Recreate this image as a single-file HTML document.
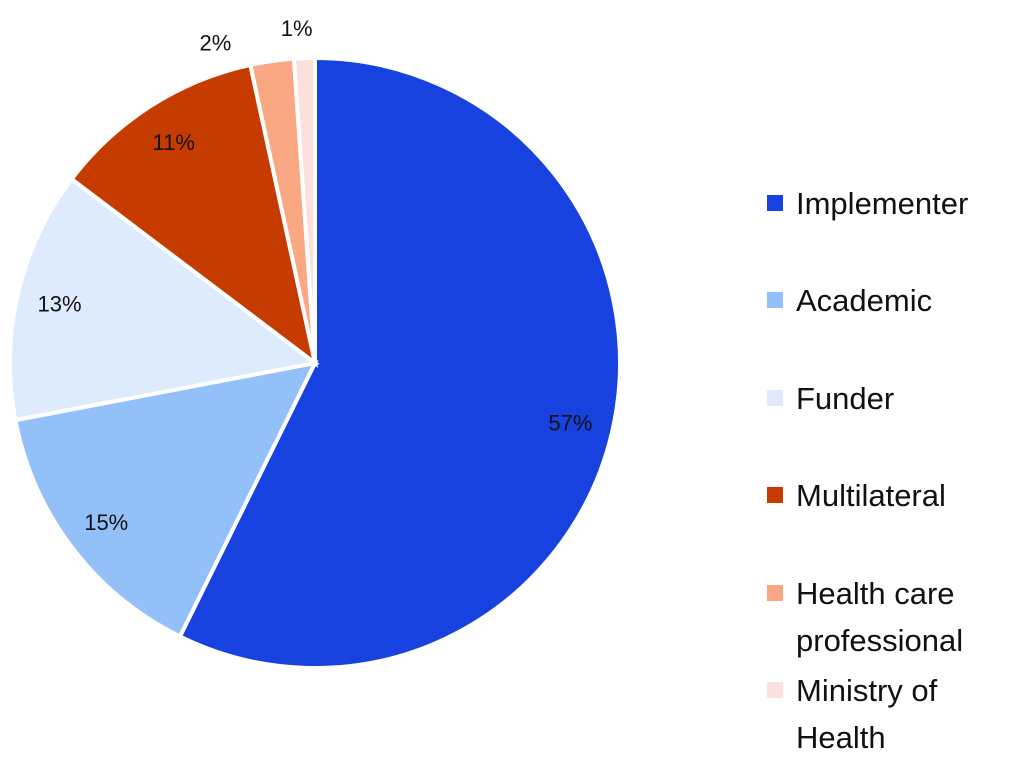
<!DOCTYPE html>
<html><head><meta charset="utf-8"><style>
html,body{margin:0;padding:0;background:#fff;}
svg{display:block;font-family:"Liberation Sans",sans-serif;}
</style></head><body>
<svg id="chart" width="1024" height="772" viewBox="0 0 1024 772"></svg>
<script>
const categories=["Implementer","Academic","Funder","Multilateral","Health care professional","Ministry of Health"];
const values=[57.3,14.7,13.3,11.3,2.3,1.1];
const valueLabels=["57%","15%","13%","11%","2%","1%"];
const colors=["#1742E0","#94C0FA","#DDEBFC","#C63C00","#F9A883","#FBE0DB"];
const legendLines=[["Implementer"],["Academic"],["Funder"],["Multilateral"],["Health care","professional"],["Ministry of","Health"]];
const NS="http://www.w3.org/2000/svg";
const svg=document.getElementById('chart');
const cx=315,cy=363,R=305;
const total=values.reduce((a,b)=>a+b,0);
function pt(a,r){return [cx+r*Math.sin(a),cy-r*Math.cos(a)];}
let acc=0;
values.forEach((v,i)=>{
  const a0=acc/total*2*Math.PI; acc+=v; const a1=acc/total*2*Math.PI;
  const p0=pt(a0,R),p1=pt(a1,R);
  const large=(a1-a0)>Math.PI?1:0;
  const path=document.createElementNS(NS,'path');
  path.setAttribute('d',`M${cx},${cy}L${p0[0]},${p0[1]}A${R},${R} 0 ${large} 1 ${p1[0]},${p1[1]}Z`);
  path.setAttribute('fill',colors[i]);path.setAttribute('stroke','#fff');path.setAttribute('stroke-width','4');
  
  
  svg.appendChild(path);
  const frac=v/total;
  const am=(a0+a1)/2;
  let lp;
  if(frac>0.05){lp=pt(am,0.86*R);}
  else{lp=pt(am-(frac>0.015?0.16:0.02),1.1*R);}
  const t=document.createElementNS(NS,'text');
  t.setAttribute('x',lp[0]);t.setAttribute('y',lp[1]+8);
  t.setAttribute('text-anchor','middle');t.setAttribute('font-size','22');t.setAttribute('fill','#111');
  
  
  t.textContent=valueLabels[i];
  svg.appendChild(t);
});
const legendY=[203,300,398,495,593,690];
legendLines.forEach((lines,i)=>{
  const g=document.createElementNS(NS,'g');
  
  
  const r=document.createElementNS(NS,'rect');
  r.setAttribute('x',767);r.setAttribute('y',legendY[i]-8);r.setAttribute('width',16);r.setAttribute('height',16);
  r.setAttribute('fill',colors[i]);
  
  
  g.appendChild(r);
  lines.forEach((ln,j)=>{
    const t=document.createElementNS(NS,'text');
    t.setAttribute('x',796);t.setAttribute('y',legendY[i]+11+j*47);
    t.setAttribute('font-size','31');t.setAttribute('fill','#111');
    
    
    t.textContent=ln;g.appendChild(t);
  });
  svg.appendChild(g);
});
</script>
</body></html>
